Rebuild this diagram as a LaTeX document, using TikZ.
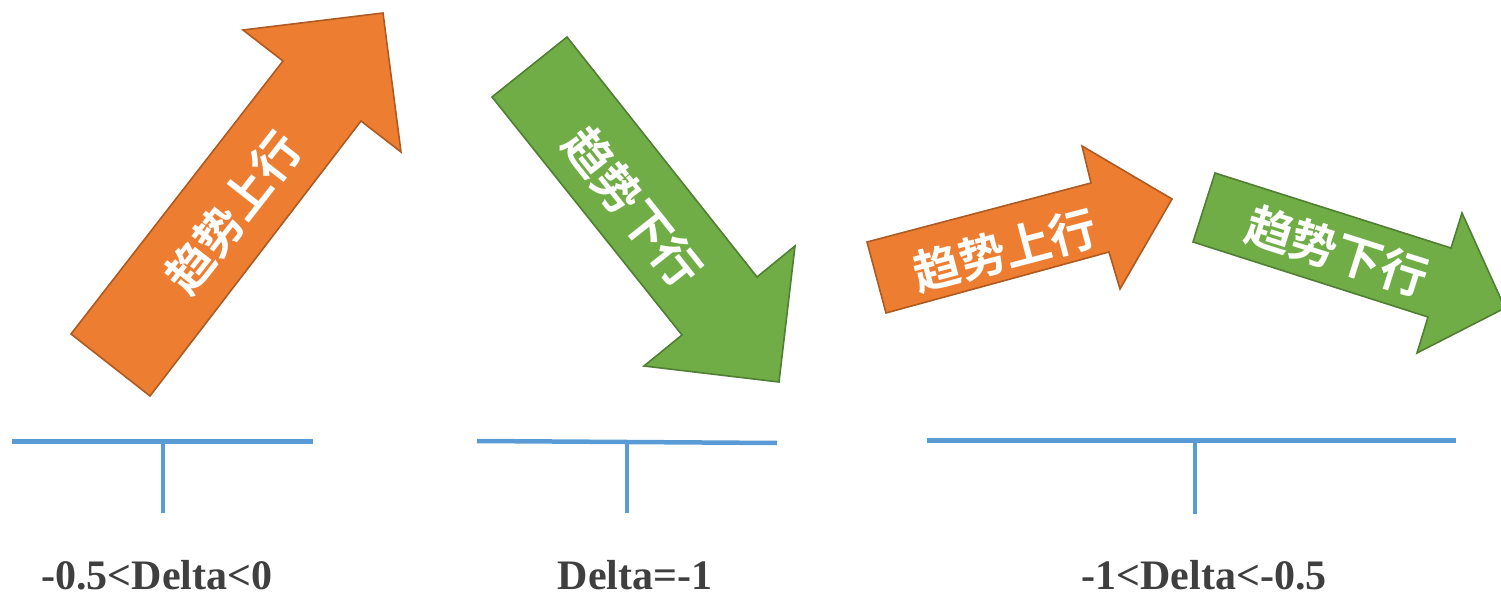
\documentclass[tikz,border=0pt]{standalone}
\usepackage{fontspec}
\setmainfont{Liberation Serif}
\newfontfamily\cjk{Noto Sans CJK SC Bold}
\definecolor{orangefill}{HTML}{ED7D31}
\definecolor{orangeline}{HTML}{AE5A21}
\definecolor{greenfill}{HTML}{70AD47}
\definecolor{greenline}{HTML}{507E32}
\definecolor{barblue}{HTML}{5B9BD5}
\definecolor{labelgray}{HTML}{3F3F3F}
\tikzset{
  uparrow/.style={fill=orangefill, draw=orangeline, line width=1.6pt, line join=miter},
  downarrow/.style={fill=greenfill, draw=greenline, line width=1.6pt, line join=miter},
  arrowtext/.style={text=white, font=\cjk\fontsize{47}{47}\selectfont, inner sep=0pt},
  tbar/.style={draw=barblue, line width=4.5pt},
  tstem/.style={draw=barblue, line width=4pt},
  deltalabel/.style={text=labelgray, font=\bfseries\fontsize{42}{42}\selectfont, anchor=base, inner sep=0pt}
}
\begin{document}
\begin{tikzpicture}[x=1pt,y=-1pt]
\useasboundingbox (0,0) rectangle (1501,593);
\clip (0,0) rectangle (1501,593);
% arrow 1 (up, orange)
\draw[uparrow] (71,334) -- (283,61) -- (243,30) -- (383,13) -- (401,152) -- (361,121) -- (150,396) -- cycle;
\node[arrowtext, rotate=52] (t1) at (233,213) {趋势上行};
% arrow 2 (down, green)
\draw[downarrow] (492,97) -- (567,37) -- (757,277) -- (795,246) -- (779,382) -- (644,366) -- (682,335) -- cycle;
\node[arrowtext, rotate=-51.6] (t2) at (633,207) {趋势下行};
% arrow 3 (up, orange)
\draw[uparrow] (867,242) -- (1091,183) -- (1082,146) -- (1172,199) -- (1120,289) -- (1109,252) -- (886,313) -- cycle;
\node[arrowtext, rotate=14.8] (t3) at (1005,250) {趋势上行};
% arrow 4 (down, green)
\draw[downarrow] (1215,173) -- (1451,248) -- (1462,213) -- (1505,308) -- (1417,353) -- (1428,317) -- (1193,242) -- cycle;
\node[arrowtext, rotate=-17.6] (t4) at (1337,251) {趋势下行};
% T bars
\coordinate (b1l) at (12,441.5);
\coordinate (b1r) at (313,441.5);
\coordinate (b1t) at (163,441.5);
\coordinate (b1b) at (163,513);
\draw[tbar] (b1l) -- (b1r);
\draw[tstem] (b1t) -- (b1b);
\coordinate (b2l) at (477,441);
\coordinate (b2r) at (777,443);
\coordinate (b2t) at (627,442);
\coordinate (b2b) at (627,513);
\draw[tbar] (b2l) -- (b2r);
\draw[tstem] (b2t) -- (b2b);
\coordinate (b3l) at (927,440.5);
\coordinate (b3r) at (1456,440.5);
\coordinate (b3t) at (1195,440.5);
\coordinate (b3b) at (1195,514);
\draw[tbar] (b3l) -- (b3r);
\draw[tstem] (b3t) -- (b3b);
% labels
\node[deltalabel] (l1) at (157,589) {-0.5<Delta<0};
\node[deltalabel] (l2) at (635,589) {Delta=-1};
\node[deltalabel] (l3) at (1204,589) {-1<Delta<-0.5};
\end{tikzpicture}
\end{document}
